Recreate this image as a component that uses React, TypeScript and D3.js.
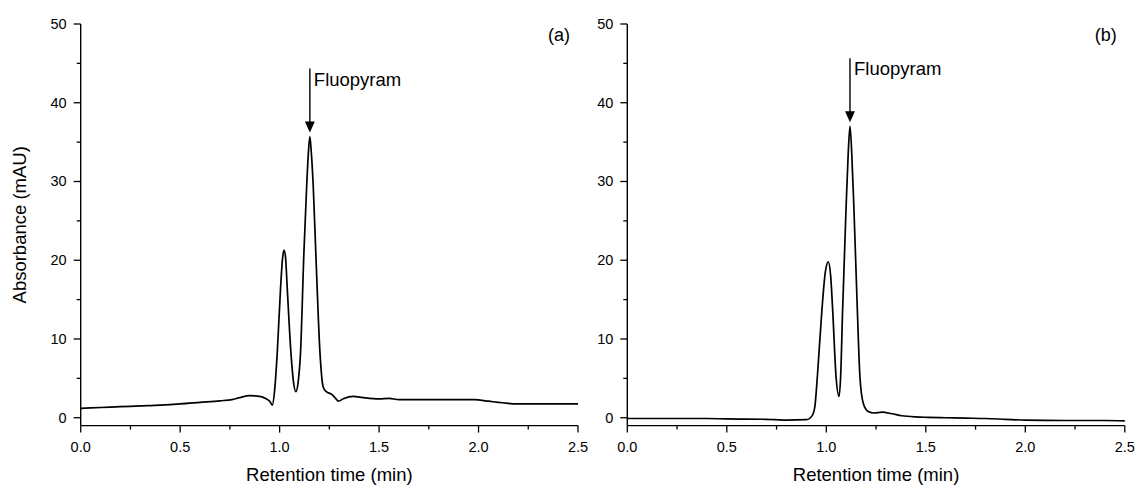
import React from "react";
import * as d3 from "d3";

// Chromatogram (a): [retention time (min), absorbance (mAU)]
const seriesA: [number, number][] = [
  [0.0, 1.2], [0.1, 1.3], [0.2, 1.4], [0.3, 1.5], [0.4, 1.6], [0.5, 1.75],
  [0.6, 1.95], [0.7, 2.15], [0.76, 2.3], [0.8, 2.55], [0.85, 2.8], [0.89, 2.75],
  [0.93, 2.45], [0.95, 2.1], [0.963, 1.6], [0.975, 3.5], [0.988, 8.2],
  [1.005, 16.6], [1.015, 20.3], [1.022, 21.3], [1.03, 20.3], [1.038, 16.6],
  [1.057, 8.2], [1.07, 4.5], [1.082, 3.3], [1.093, 4.5], [1.105, 8.2],
  [1.122, 20.9], [1.136, 29.4], [1.145, 33.8], [1.152, 35.7], [1.159, 33.8],
  [1.169, 29.4], [1.182, 20.9], [1.203, 8.2], [1.219, 3.9], [1.235, 3.3],
  [1.26, 3.0], [1.28, 2.5], [1.295, 2.1], [1.32, 2.4], [1.37, 2.7],
  [1.42, 2.55], [1.5, 2.4], [1.55, 2.45], [1.6, 2.3], [1.7, 2.3], [1.8, 2.3],
  [1.9, 2.3], [1.98, 2.3], [2.05, 2.1], [2.12, 1.9], [2.19, 1.75], [2.3, 1.75],
  [2.5, 1.75],
];

// Chromatogram (b)
const seriesB: [number, number][] = [
  [0.0, -0.1], [0.2, -0.1], [0.4, -0.1], [0.5, -0.15], [0.7, -0.2], [0.8, -0.3],
  [0.9, -0.25], [0.93, 0.3], [0.943, 1.5], [0.955, 5.2], [0.978, 13.7],
  [0.995, 18.5], [1.01, 19.8], [1.022, 18], [1.032, 13.7], [1.049, 5.2],
  [1.064, 2.7], [1.072, 5.2], [1.082, 13.7], [1.099, 26.4], [1.11, 33.5],
  [1.119, 37.0], [1.128, 33.5], [1.139, 26.4], [1.156, 13.7], [1.169, 5.2],
  [1.186, 1.8], [1.21, 0.8], [1.24, 0.6], [1.28, 0.7], [1.33, 0.5],
  [1.38, 0.25], [1.45, 0.1], [1.51, 0.05], [1.6, 0.0], [1.7, -0.05],
  [1.8, -0.1], [1.9, -0.2], [2.0, -0.3], [2.2, -0.35], [2.4, -0.35], [2.5, -0.4],
];

const xMajorTicks = [0, 0.5, 1.0, 1.5, 2.0, 2.5];
const xMinorTicks = [0.25, 0.75, 1.25, 1.75, 2.25];
const yMajorTicks = [0, 10, 20, 30, 40, 50];
const yMinorTicks = [5, 15, 25, 35, 45];

const xDomain: [number, number] = [0, 2.5];
const yDomain: [number, number] = [-1, 50];

const panels = [
  { label: "(a)", data: seriesA, left: 80.7, right: 578, peakT: 1.152, peakV: 35.7, showYTitle: true },
  { label: "(b)", data: seriesB, left: 627.3, right: 1124.8, peakT: 1.119, peakV: 37.0, showYTitle: false },
];

const FONT = "'Liberation Sans', Arial, sans-serif";
const TOP = 24;
const BOTTOM = 425.6;

function Panel({ p }: { p: (typeof panels)[number] }) {
  const x = d3.scaleLinear().domain(xDomain).range([p.left, p.right]);
  const y = d3.scaleLinear().domain(yDomain).range([BOTTOM, TOP]);
  const line = d3
    .line<[number, number]>()
    .x((d) => x(d[0]))
    .y((d) => y(d[1]))
    .curve(d3.curveMonotoneX);
  const ax = x(p.peakT);
  const tipY = y(p.peakV) - 4;
  const startY = tipY - 64;
  const midX = (p.left + p.right) / 2;
  return (
    <g>
      <path d={line(p.data) || ""} fill="none" stroke="#000" strokeWidth={1.7} strokeLinejoin="round" />
      {/* axes */}
      <line x1={p.left} x2={p.left} y1={TOP} y2={BOTTOM} stroke="#000" strokeWidth={1.4} />
      <line x1={p.left} x2={p.right} y1={BOTTOM} y2={BOTTOM} stroke="#000" strokeWidth={1.4} />
      {xMajorTicks.map((t) => (
        <g key={"xm" + t}>
          <line x1={x(t)} x2={x(t)} y1={BOTTOM} y2={BOTTOM + 7} stroke="#000" strokeWidth={1.3} />
          <text x={x(t)} y={451.5} textAnchor="middle" fontSize={14.5} fontFamily={FONT} fill="#000">
            {t.toFixed(1)}
          </text>
        </g>
      ))}
      {xMinorTicks.map((t) => (
        <line key={"xn" + t} x1={x(t)} x2={x(t)} y1={BOTTOM} y2={BOTTOM + 4} stroke="#000" strokeWidth={1.3} />
      ))}
      {yMajorTicks.map((v) => (
        <g key={"ym" + v}>
          <line x1={p.left - 7} x2={p.left} y1={y(v)} y2={y(v)} stroke="#000" strokeWidth={1.3} />
          <text x={p.left - 14} y={y(v) + 5} textAnchor="end" fontSize={14.5} fontFamily={FONT} fill="#000">
            {v}
          </text>
        </g>
      ))}
      {yMinorTicks.map((v) => (
        <line key={"yn" + v} x1={p.left - 4} x2={p.left} y1={y(v)} y2={y(v)} stroke="#000" strokeWidth={1.3} />
      ))}
      <text x={midX} y={481} textAnchor="middle" fontSize={18.5} fontFamily={FONT} fill="#000">
        Retention time (min)
      </text>
      {p.showYTitle && (
        <text
          transform={`translate(26, ${(TOP + BOTTOM) / 2}) rotate(-90)`}
          textAnchor="middle"
          fontSize={18.5}
          fontFamily={FONT}
          fill="#000"
        >
          Absorbance (mAU)
        </text>
      )}
      <text x={p.right - 19} y={41} textAnchor="middle" fontSize={18} fontFamily={FONT} fill="#000">
        {p.label}
      </text>
      {/* arrow */}
      <line x1={ax} x2={ax} y1={startY} y2={tipY - 8} stroke="#000" strokeWidth={1.4} />
      <path d={`M${ax - 5},${tipY - 11} L${ax + 5},${tipY - 11} L${ax},${tipY} Z`} fill="#000" />
      <text x={ax + 4} y={startY + 17} fontSize={18.5} fontFamily={FONT} fill="#000">
        Fluopyram
      </text>
    </g>
  );
}

export default function App() {
  return (
    <div style={{ position: "fixed", left: 0, top: 0 }}>
      <svg width={1135} height={486} style={{ display: "block", background: "#fff" }}>
        <rect width={1135} height={486} fill="#fff" />
        {panels.map((p) => (
          <Panel key={p.label} p={p} />
        ))}
      </svg>
    </div>
  );
}
